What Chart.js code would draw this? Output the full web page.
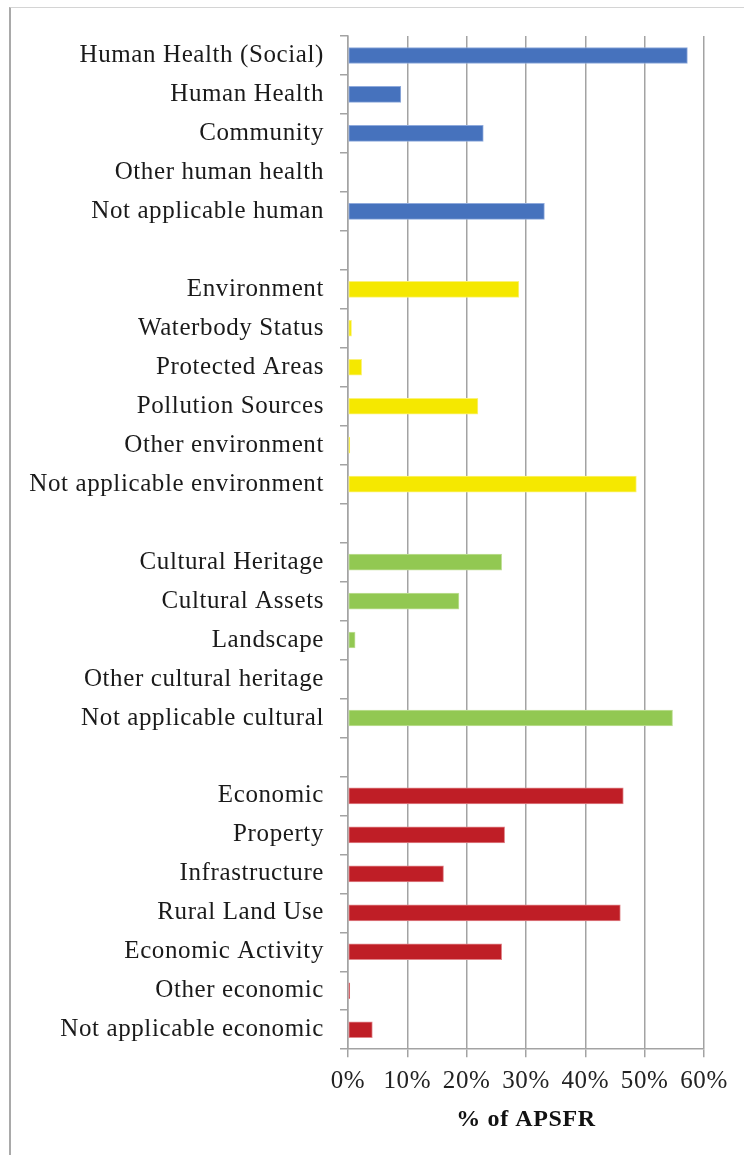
<!DOCTYPE html>
<html>
<head>
<meta charset="utf-8">
<script src="https://cdn.jsdelivr.net/npm/chart.js@4/dist/chart.umd.min.js"></script>
<style>
  body { margin: 0; background: #fff; }
  #frame { position: absolute; left: 9px; top: 7px; width: 735px; height: 1148px;
           border-top: 1px solid #d4d4d4; border-left: 2px solid #a9a9a9; box-sizing: border-box; }
  #wrap { position: absolute; left: 0; top: 0; width: 744px; height: 1155px; }
</style>
</head>
<body>
<div id="frame"></div>
<div id="wrap"><canvas id="apsfr_chart" width="744" height="1155"></canvas></div>
<script>
// values, % of APSFR
const humanLabels = ["Human Health (Social)", "Human Health", "Community", "Other human health", "Not applicable human"];
const humanValues = [57.2, 8.9, 22.8, 0, 33.1];

const envLabels = ["Environment", "Waterbody Status", "Protected Areas", "Pollution Sources", "Other environment", "Not applicable environment"];
const envValues = [28.8, 0.6, 2.3, 21.9, 0.3, 48.6];

const culturalLabels = ["Cultural Heritage", "Cultural Assets", "Landscape", "Other cultural heritage", "Not applicable cultural"];
const culturalValues = [25.9, 18.7, 1.2, 0, 54.7];

const economicLabels = ["Economic", "Property", "Infrastructure", "Rural Land Use", "Economic Activity", "Other economic", "Not applicable economic"];
const economicValues = [46.4, 26.4, 16.1, 45.9, 25.9, 0.3, 4.1];

const xTickLabels = ["0%", "10%", "20%", "30%", "40%", "50%", "60%"];

// group colours
const groupFill = ["#4672bd", "#f5e800", "#92c852", "#bf1e26"];
const groupEdge = ["#8faadc", "#fbf27a", "#c2e09a", "#e0868b"];

let categories = [];
let values = [];
let fills = [];
let edges = [];
[[humanLabels, humanValues], [envLabels, envValues], [culturalLabels, culturalValues], [economicLabels, economicValues]]
  .forEach(function (g, gi) {
    if (gi > 0) {
      categories.push("");
      values.push(null);
      fills.push("#fff");
      edges.push("#fff");
    }
    g[0].forEach(function (lab, i) {
      categories.push(lab);
      values.push(g[1][i]);
      fills.push(groupFill[gi]);
      edges.push(groupEdge[gi]);
    });
  });

const spacing = {
  id: "spacing",
  beforeLayout: function (chart) { chart.ctx.letterSpacing = "0.6px"; },
  beforeDraw: function (chart) { chart.ctx.letterSpacing = "0.6px"; }
};

const serif = "'Liberation Serif', 'Times New Roman', serif";

new Chart("apsfr_chart", {
  type: "bar",
  data: {
    labels: categories,
    datasets: [{
      data: values,
      backgroundColor: fills,
      borderColor: edges,
      borderWidth: 1,
      borderSkipped: false,
      barThickness: 16
    }]
  },
  options: {
    indexAxis: "y",
    responsive: false,
    animation: false,
    maintainAspectRatio: false,
    layout: { padding: { top: 36, right: 40, bottom: 21, left: 0 } },
    plugins: {
      legend: { display: false },
      tooltip: { enabled: false }
    },
    scales: {
      x: {
        min: 0,
        max: 60,
        ticks: {
          stepSize: 10,
          padding: 9,
          color: "#222",
          font: { family: serif, size: 25 },
          callback: function (v, i) { return xTickLabels[i]; }
        },
        grid: { color: "#a3a3a3", lineWidth: 1.5, tickLength: 8 },
        border: { color: "#a3a3a3", width: 1.5 },
        title: {
          display: true,
          text: "% of APSFR",
          color: "#111",
          font: { family: serif, size: 24, weight: "bold" },
          padding: { top: 0, bottom: 0 }
        }
      },
      y: {
        afterFit: function (scale) { scale.width = 348; },
        ticks: {
          padding: 16,
          color: "#1a1a1a",
          font: { family: serif, size: 25 },
          autoSkip: false
        },
        grid: { offset: true, drawOnChartArea: false, color: "#a3a3a3", lineWidth: 1.5, tickLength: 8 },
        border: { color: "#a3a3a3", width: 1.5 }
      }
    }
  },
  plugins: [spacing]
});
</script>
</body>
</html>
